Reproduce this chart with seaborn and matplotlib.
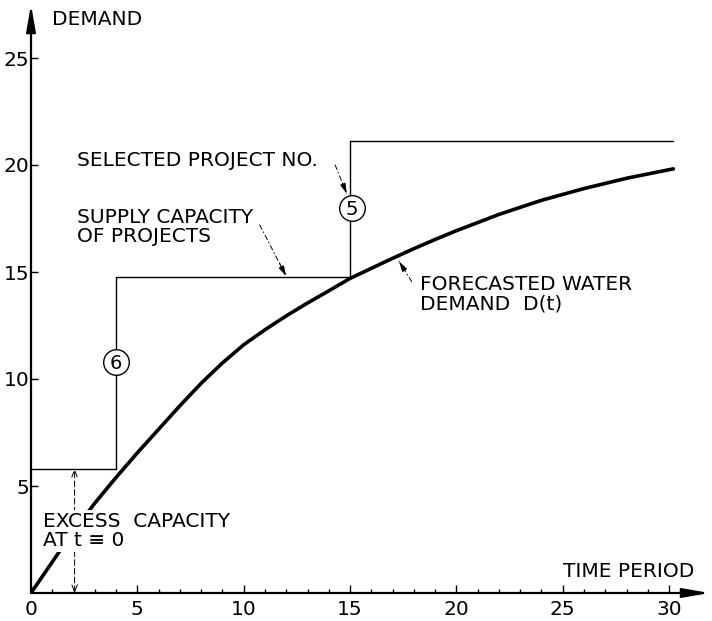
import matplotlib
matplotlib.use("Agg")
import matplotlib.pyplot as plt
import seaborn as sns
import pandas as pd

# ---- data ----
time_period = [0, 1, 2, 3, 4, 5, 6, 7, 8, 9, 10, 11, 12, 13, 14, 15, 16, 17, 18, 19, 20,
               22, 24, 26, 28, 30.2]
water_demand = [0, 1.45, 2.9, 4.2, 5.4, 6.55, 7.65, 8.75, 9.8, 10.75, 11.6, 12.3, 12.95,
                13.55, 14.12, 14.7, 15.17, 15.64, 16.09, 16.52, 16.93,
                17.69, 18.35, 18.9, 19.38, 19.82]

step_time = [0, 4, 15, 30.2]
step_capacity = [5.8, 14.75, 21.1, 21.1]

project_numbers = ["6", "5"]
project_times = [4, 15.1]
project_levels = [10.8, 18.0]

x_ticks = [0, 5, 10, 15, 20, 25, 30]
y_ticks = [5, 10, 15, 20, 25]

sns.set_style("white")
plt.rcParams["font.family"] = ["DejaVu Sans"]
plt.rcParams["text.color"] = "black"
plt.rcParams["xtick.color"] = "black"
plt.rcParams["ytick.color"] = "black"

fig = plt.figure(figsize=(7.12, 6.21), dpi=100)
W, H = 712, 621
px_x, px_y = 21.27, 21.4
x0, y0 = 31, 28
xmax, ymax = 31.9, 27.5
ax = fig.add_axes([x0 / W, y0 / H, xmax * px_x / W, ymax * px_y / H])

demand_df = pd.DataFrame({"t": time_period, "D": water_demand})
step_df = pd.DataFrame({"t": step_time, "S": step_capacity})

sns.lineplot(data=demand_df, x="t", y="D", ax=ax, color="black", lw=2.6,
             sort=False, zorder=3)
sns.lineplot(data=step_df, x="t", y="S", ax=ax, color="black", lw=1.0,
             drawstyle="steps-post", sort=False, zorder=2)

ax.set_xlim(0, xmax)
ax.set_ylim(0, ymax)
for s in ax.spines.values():
    s.set_visible(False)
ax.set_xlabel("")
ax.set_ylabel("")

ax.set_xticks(x_ticks)
ax.set_xticks(range(1, 30), minor=True)
ax.set_yticks(y_ticks)
ax.tick_params(axis="x", which="major", direction="in", length=5.5, width=1.0,
               labelsize=14.5, pad=5, bottom=True, colors="black")
ax.tick_params(axis="x", which="minor", direction="in", length=3, width=1.0,
               bottom=True, colors="black")
ax.tick_params(axis="y", which="major", direction="in", length=5, width=1.0,
               labelsize=14.5, pad=1, left=True, colors="black")

# axis arrows
arrow_kw = dict(arrowstyle="-|>,head_length=1.6,head_width=0.28", lw=1.6,
                color="black", shrinkA=0, shrinkB=0)
ax.annotate("", xy=(0, 1), xytext=(0, 0), xycoords="axes fraction",
            textcoords="axes fraction", arrowprops=arrow_kw, annotation_clip=False)
ax.annotate("", xy=(1, 0), xytext=(0, 0), xycoords="axes fraction",
            textcoords="axes fraction", arrowprops=arrow_kw, annotation_clip=False)

fs = 14.5
ax.text(0.99, 26.8, "DEMAND", fontsize=fs, va="center", ha="left")
ax.text(25.0, 1.0, "TIME PERIOD", fontsize=fs, va="center", ha="left")
ax.text(2.16, 20.2, "SELECTED PROJECT NO.", fontsize=fs, va="center", ha="left")
ax.text(2.16, 17.1, "SUPPLY CAPACITY\nOF PROJECTS", fontsize=fs, va="center",
        ha="left", linespacing=1.05)
ax.text(18.3, 13.95, "FORECASTED WATER\nDEMAND  D(t)", fontsize=fs, va="center",
        ha="left", linespacing=1.05)
ax.text(0.55, 2.9, "EXCESS  CAPACITY\nAT t \u2261 0", fontsize=fs, va="center",
        ha="left", linespacing=1.05, zorder=5,
        bbox=dict(facecolor="white", edgecolor="none", pad=1))

# project number circles
ax.scatter(project_times, project_levels, s=340, facecolor="white",
           edgecolor="black", linewidth=1.0, zorder=4)
for num, tx, ly in zip(project_numbers, project_times, project_levels):
    ax.text(tx, ly, num, fontsize=14, ha="center", va="center_baseline", zorder=5)


def leader(start, end):
    ax.annotate("", xy=end, xytext=start,
                arrowprops=dict(arrowstyle="-", lw=0.7, color="black",
                                linestyle=(0, (5, 3, 1, 3)), shrinkA=0, shrinkB=0))
    dx, dy = end[0] - start[0], end[1] - start[1]
    ax.annotate("", xy=end, xytext=(end[0] - 0.25 * dx, end[1] - 0.25 * dy),
                arrowprops=dict(arrowstyle="-|>,head_length=0.6,head_width=0.16",
                                lw=0.8, color="black", shrinkA=0, shrinkB=0))


leader((14.3, 20.0), (14.85, 18.65))
leader((10.75, 17.2), (12.0, 14.8))
leader((17.9, 14.55), (17.3, 15.5))

# excess capacity double arrow
ax.annotate("", xy=(2.05, 5.8), xytext=(2.05, 0),
            arrowprops=dict(arrowstyle="<->,head_length=0.5,head_width=0.2",
                            lw=0.7, color="black", linestyle=(0, (6, 3)),
                            shrinkA=0, shrinkB=0), zorder=1)

fig.savefig("out.png", dpi=100, facecolor="white")
